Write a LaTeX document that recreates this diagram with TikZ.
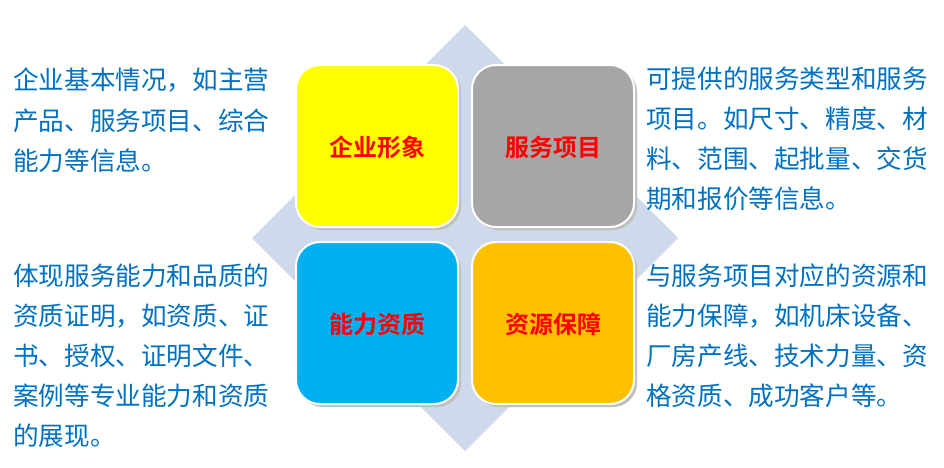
\documentclass[tikz,border=0pt]{standalone}
\usepackage{fontspec}
\newfontfamily\cjk{Noto Sans CJK SC}
\newfontfamily\cjkb{Noto Sans CJK SC Bold}
\begin{document}
\begin{tikzpicture}[x=1pt,y=-1pt,
  box/.style={draw=white,line width=2pt,rounded corners=24pt},
  lbl/.style={font=\cjkb\fontsize{24}{24}\selectfont,text=red},
  txt/.style={anchor=west,inner sep=0pt,font=\cjk\fontsize{25.6}{25.6}\selectfont,text={rgb,255:red,0;green,112;blue,192}}]
\useasboundingbox (0,0) rectangle (944,467);
\fill[fill={rgb,255:red,207;green,217;blue,236}] (465,25) -- (678,238) -- (465,451) -- (252,238) -- cycle;
\foreach \x/\y/\c in {296/65/{rgb,255:red,255;green,255;blue,0},472/65/{rgb,255:red,166;green,166;blue,166},296/242/{rgb,255:red,0;green,176;blue,240},472/242/{rgb,255:red,255;green,192;blue,0}}{
  \fill[black!25,rounded corners=24pt] (\x+3,\y+3) rectangle ++(162,162);
  \filldraw[box,fill=\c] (\x,\y) rectangle ++(162,162);
}
\node[lbl] (a) at (377,147) {企业形象};
\node[lbl] (b) at (553,147) {服务项目};
\node[lbl] (c) at (377,324) {能力资质};
\node[lbl] (d) at (553,324) {资源保障};
\node[txt] (l1) at (13,80) {企业基本情况，如主营};
\node[txt] (l2) at (13,121) {产品、服务项目、综合};
\node[txt] (l3) at (13,161) {能力等信息。};
\node[txt] (m1) at (13,276) {体现服务能力和品质的};
\node[txt] (m2) at (13,316) {资质证明，如资质、证};
\node[txt] (m3) at (13,356) {书、授权、证明文件、};
\node[txt] (m4) at (13,396) {案例等专业能力和资质};
\node[txt] (m5) at (13,436) {的展现。};
\node[txt] (r1) at (646,79) {可提供的服务类型和服务};
\node[txt] (r2) at (646,119) {项目。如尺寸、精度、材};
\node[txt] (r3) at (646,159) {料、范围、起批量、交货};
\node[txt] (r4) at (646,199) {期和报价等信息。};
\node[txt] (s1) at (646,276) {与服务项目对应的资源和};
\node[txt] (s2) at (646,316) {能力保障，如机床设备、};
\node[txt] (s3) at (646,356) {厂房产线、技术力量、资};
\node[txt] (s4) at (646,396) {格资质、成功客户等。};
\end{tikzpicture}
\end{document}
